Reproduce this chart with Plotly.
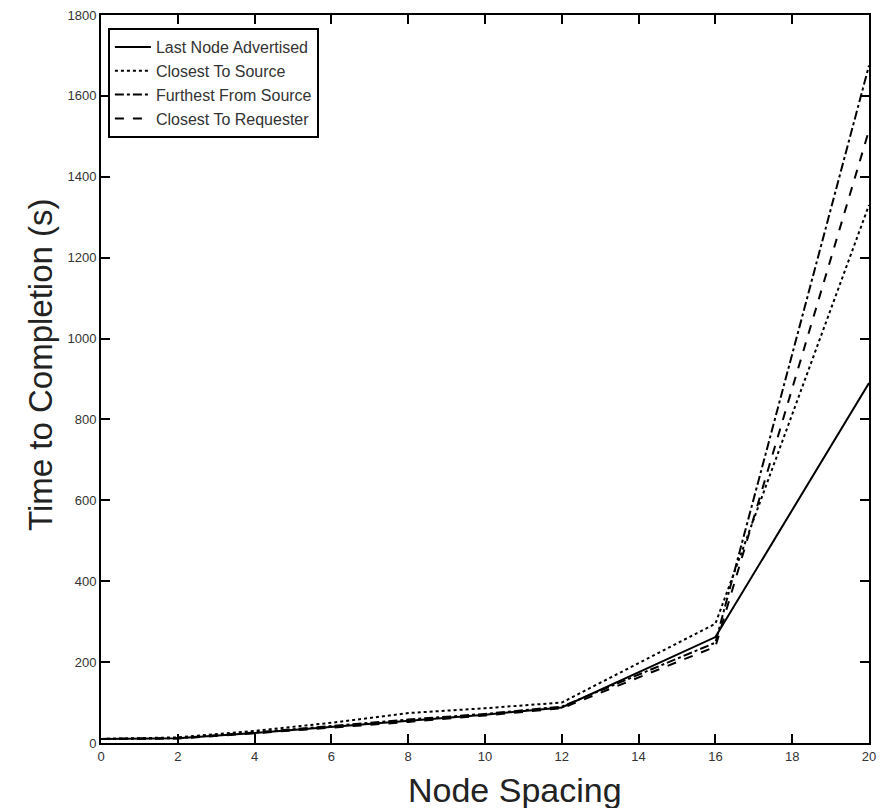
import plotly.graph_objects as go

node_spacing = [0, 2, 4, 6, 8, 10, 12, 16, 20]

last_node_advertised = [10, 12, 25, 40, 55, 70, 88, 262, 890]
closest_to_source = [10, 14, 30, 50, 74, 86, 100, 295, 1330]
furthest_from_source = [10, 12, 26, 42, 58, 72, 90, 248, 1675]
closest_to_requester = [10, 11, 24, 38, 52, 68, 86, 238, 1515]

series_names = ["Last Node Advertised", "Closest To Source",
                "Furthest From Source", "Closest To Requester"]
series_values = [last_node_advertised, closest_to_source,
                 furthest_from_source, closest_to_requester]
series_dash = ["solid", "dot", "dashdot", "dash"]

x_ticks = list(range(0, 21, 2))
y_ticks = list(range(0, 1801, 200))

fig = go.Figure()
for name, vals, dash in zip(series_names, series_values, series_dash):
    fig.add_trace(go.Scatter(
        x=node_spacing, y=vals, mode="lines", name=name,
        line=dict(color="black", width=2, dash=dash),
    ))

font_family = "Liberation Sans, Arial, sans-serif"

fig.update_layout(
    width=878, height=800,
    margin=dict(l=93, r=17, t=7, b=65),
    plot_bgcolor="white", paper_bgcolor="white",
    font=dict(family=font_family, color="black"),
    showlegend=True,
    legend=dict(
        x=0.009, y=0.982, xanchor="left", yanchor="top",
        bordercolor="black", borderwidth=2, bgcolor="white",
        font=dict(size=16, color="#333333"),
        tracegroupgap=0, itemwidth=36,
    ),
    annotations=[
        dict(text="Node Spacing", xref="paper", yref="paper",
             x=(515 - 101) / 768, y=-(790 - 743) / 728,
             xanchor="center", yanchor="middle", showarrow=False,
             font=dict(size=34, color="#222222")),
        dict(text="Time to Completion (s)", xref="paper", yref="paper",
             x=-(101 - 40) / 768, y=1 - (365 - 15) / 728, textangle=-90,
             xanchor="center", yanchor="middle", showarrow=False,
             font=dict(size=33, color="#222222")),
    ],
)

fig.update_xaxes(
    range=[0, 20], tickvals=x_ticks, ticktext=[str(v) for v in x_ticks],
    ticks="inside", ticklen=9, tickwidth=2, tickcolor="black",
    showline=True, linecolor="black", linewidth=2, mirror="ticks",
    showgrid=False, zeroline=False, automargin=False,
    ticklabeloverflow="allow",
    tickfont=dict(size=13, color="#333333"),
)
fig.update_yaxes(
    range=[0, 1800], tickvals=y_ticks, ticktext=[str(v) for v in y_ticks],
    ticks="inside", ticklen=9, tickwidth=2, tickcolor="black",
    showline=True, linecolor="black", linewidth=2, mirror="ticks",
    showgrid=False, zeroline=False, automargin=False,
    ticklabeloverflow="allow",
    tickfont=dict(size=13, color="#333333"),
)

fig.write_html("out.html")
